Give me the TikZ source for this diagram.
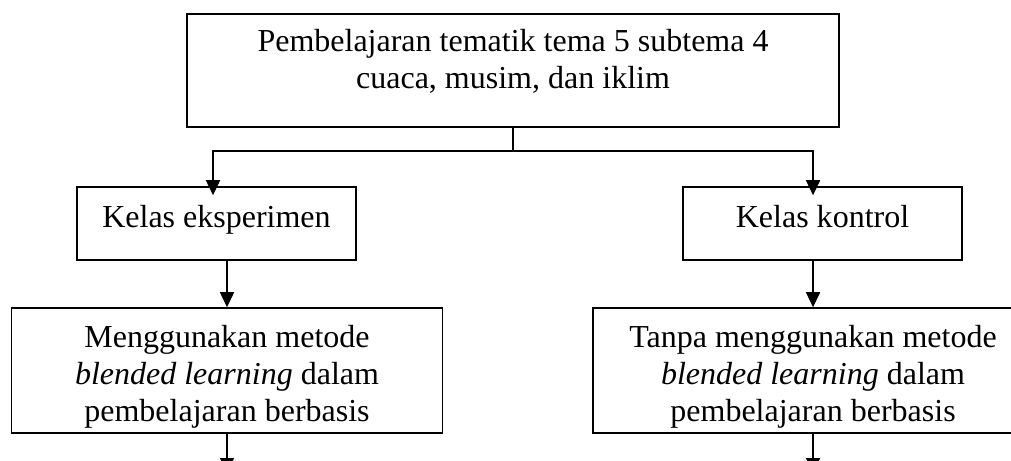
\documentclass[tikz,border=0pt]{standalone}
\usepackage{fontspec}
\setmainfont{Liberation Serif}
\usetikzlibrary{arrows.meta}

\tikzset{
	kotak/.style={draw, line width=1.5pt, inner sep=0pt},
	teks/.style={anchor=north, inner sep=0pt},
	garis/.style={line width=1.5pt},
	panah/.style={line width=1.5pt, -{Triangle[length=15pt,width=14pt]}}
}
\newcommand{\isikotak}[3][38pt]{\parbox[t]{#2}{\centering\rule{0pt}{#1}#3}}

\begin{document}
\begin{tikzpicture}[scale=0.3514]
	\tikzstyle{every node}+=[font=\fontsize{32}{36.8}\selectfont]
	\useasboundingbox (0,0) rectangle (101.1,-46.1);
	% kotak atas
	\node [kotak, minimum width=652pt, minimum height=113pt] (tema) at (51.3,-7.05) {};
	\node [teks] (temateks) at (tema.north) {\isikotak{652pt}{Pembelajaran tematik tema 5 subtema 4\\cuaca, musim, dan iklim}};
	% kelas
	\node [kotak, minimum width=279pt, minimum height=73pt] (eksp) at (21.65,-22.35) {};
	\node [teks] (eksteks) at (eksp.north) {\isikotak[41pt]{279pt}{Kelas eksperimen}};
	\node [kotak, minimum width=279pt, minimum height=73pt] (kontrol) at (82.25,-22.35) {};
	\node [teks] (kontrolteks) at (kontrol.north) {\isikotak[41pt]{279pt}{Kelas kontrol}};
	% perlakuan
	\node [kotak, minimum width=431pt, minimum height=125pt] (metode) at (22.7,-37.05) {};
	\node [kotak, minimum width=440pt, minimum height=125pt] (tanpa) at (81.3,-37.05) {};
	\begin{scope}
		\clip (metode.north west) rectangle ([yshift=10pt]metode.south east);
		\node [teks] (metodeteks) at (metode.north) {\isikotak[40pt]{431pt}{Menggunakan metode\\\textit{blended learning} dalam\\pembelajaran berbasis}};
	\end{scope}
	\begin{scope}
		\clip (tanpa.north west) rectangle ([yshift=10pt]tanpa.south east);
		\node [teks] (tanpateks) at (tanpa.north) {\isikotak[40pt]{440pt}{Tanpa menggunakan metode\\\textit{blended learning} dalam\\pembelajaran berbasis}};
	\end{scope}
	% panah
	\coordinate (kiri) at (21.3,-15.1);
	\coordinate (kanan) at (81.3,-15.1);
	\coordinate (lanjutkiri) at (22.7,-47.3);
	\coordinate (lanjutkanan) at (81.3,-47.3);
	\draw [garis] (tema.south) -- (tema.south |- kiri);
	\draw [panah, shorten >=-9pt] (tema.south |- kiri) -- (kiri) -- (kiri |- eksp.north);
	\draw [panah, shorten >=-9pt] (tema.south |- kanan) -- (kanan) -- (kanan |- kontrol.north);
	\draw [panah] (metode.north |- eksp.south) -- (metode.north);
	\draw [panah] (tanpa.north |- kontrol.south) -- (tanpa.north);
	\draw [panah] (metode.south) -- (lanjutkiri);
	\draw [panah] (tanpa.south) -- (lanjutkanan);
\end{tikzpicture}
\end{document}
